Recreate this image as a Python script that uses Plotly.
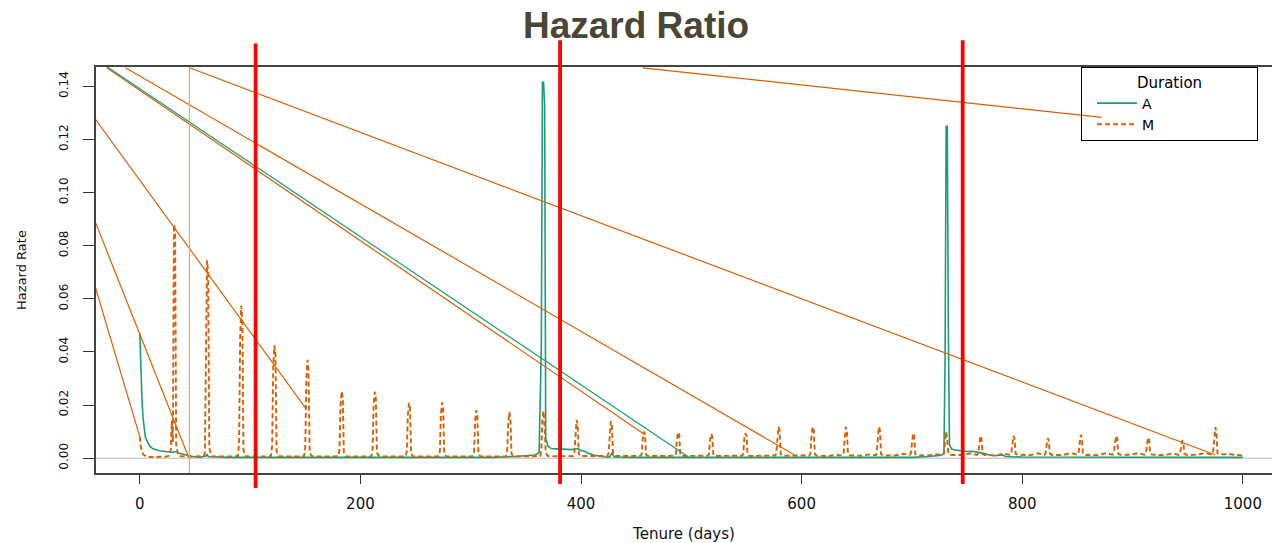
import plotly.graph_objects as go

# ---- data ----
# Duration A hazard (solid green)
A_days = [0,1,2,3,4,5,7,9,12,18,25,30,33,36,42,48,55,60,61,62,
          80,150,250,320,340,350,358,362,364,365,366,367,368,370,373,378,385,392,396,398,
          400,404,406,412,420,426,428,430,450,550,650,700,715,725,729,730,731,732,733,734,
          736,740,745,750,755,760,765,770,775,782,785,800,900,1000]
A_vals = [0.0470,0.0300,0.0220,0.0150,0.0110,0.0080,0.0060,0.0045,0.0035,0.0028,
          0.0024,0.0022,0.0025,0.0018,0.0012,0.0006,0.0004,0.0008,0.0015,0.0006,
          0.0003,0.0003,0.0002,0.0003,0.0006,0.0010,0.0012,0.0020,0.0420,0.1415,
          0.1415,0.1335,0.0075,0.0045,0.0036,0.0035,0.0034,0.0032,0.0036,0.0034,
          0.0029,0.0025,0.0019,0.0011,0.0005,0.0004,0.0020,0.0004,0.0003,0.0002,
          0.0002,0.0003,0.0006,0.0010,0.0015,0.0370,0.1250,0.1250,0.0490,0.0050,
          0.0034,0.0030,0.0028,0.0025,0.0026,0.0023,0.0018,0.0012,0.0009,0.0012,
          0.0006,0.0004,0.0003,0.0003]

# Duration M hazard (dashed orange)
M_days = [0,1,3,6,15,24,27,28,29,30,31,32,33,35,
          45,52,58,59,60,61,62,63,65,
          75,82,89,90,91,92,93,94,96,
          106,113,119,120,121,122,123,124,126,
          136,143,149,150,151,152,153,154,156,
          166,173,180,181,182,183,184,185,187,
          197,204,210,211,212,213,214,215,217,
          228,235,241,242,243,244,245,246,248,
          258,265,271,272,273,274,275,276,278,
          289,296,302,303,304,305,306,307,309,
          319,326,332,333,334,335,336,337,339,
          349,356,363,364,365,366,367,368,370,
          380,387,393,394,395,396,397,398,400,
          411,418,424,425,426,427,428,429,431,
          441,448,454,455,456,457,458,459,461,
          472,479,485,486,487,488,489,490,492,
          502,509,515,516,517,518,519,520,522,
          533,540,546,547,548,549,550,551,553,
          563,570,576,577,578,579,580,581,583,
          594,601,607,608,609,610,611,612,614,
          624,631,637,638,639,640,641,642,644,
          654,661,667,668,669,670,671,672,674,
          685,692,698,699,700,701,702,703,705,
          715,722,728,729,730,731,732,733,735,
          746,753,759,760,761,762,763,764,766,
          776,783,789,790,791,792,793,794,796,
          807,814,820,821,822,823,824,825,827,
          837,844,850,851,852,853,854,855,857,
          868,875,882,883,884,885,886,887,889,
          898,905,911,912,913,914,915,916,918,
          929,936,942,943,944,945,946,947,949,
          959,966,972,973,974,975,976,977,979,
          988,994,1000]
M_vals = [0.0080,0.0040,0.0015,0.0005,0.0004,0.0006,0.0010,0.0030,0.0140,0.0060,0.0880,0.0860,0.0050,0.0008,
          0.0005,0.0006,0.0008,0.0020,0.0495,0.0745,0.0700,0.0040,0.0007,
          0.0005,0.0006,0.0008,0.0060,0.0450,0.0575,0.0520,0.0030,0.0007,
          0.0005,0.0006,0.0008,0.0050,0.0350,0.0425,0.0390,0.0025,0.0007,
          0.0005,0.0006,0.0008,0.0040,0.0300,0.0370,0.0330,0.0020,0.0007,
          0.0005,0.0006,0.0007,0.0030,0.0200,0.0252,0.0230,0.0020,0.0006,
          0.0005,0.0006,0.0007,0.0030,0.0200,0.0250,0.0225,0.0020,0.0006,
          0.0005,0.0006,0.0007,0.0025,0.0160,0.0208,0.0190,0.0015,0.0006,
          0.0005,0.0006,0.0007,0.0025,0.0165,0.0210,0.0190,0.0015,0.0006,
          0.0005,0.0006,0.0007,0.0020,0.0140,0.0181,0.0160,0.0015,0.0006,
          0.0005,0.0006,0.0007,0.0020,0.0130,0.0174,0.0150,0.0015,0.0006,
          0.0006,0.0007,0.0008,0.0030,0.0150,0.0178,0.0120,0.0020,0.0008,
          0.0007,0.0008,0.0008,0.0020,0.0110,0.0144,0.0125,0.0015,0.0008,
          0.0007,0.0008,0.0008,0.0020,0.0105,0.0139,0.0120,0.0015,0.0008,
          0.0007,0.0008,0.0009,0.0015,0.0075,0.0100,0.0090,0.0012,0.0008,
          0.0007,0.0008,0.0009,0.0015,0.0072,0.0098,0.0088,0.0012,0.0008,
          0.0007,0.0009,0.0009,0.0015,0.0070,0.0091,0.0082,0.0012,0.0008,
          0.0007,0.0009,0.0009,0.0015,0.0072,0.0094,0.0085,0.0012,0.0008,
          0.0008,0.0010,0.0010,0.0018,0.0090,0.0118,0.0105,0.0014,0.0009,
          0.0008,0.0010,0.0010,0.0018,0.0090,0.0118,0.0105,0.0014,0.0009,
          0.0008,0.0012,0.0010,0.0018,0.0090,0.0118,0.0105,0.0014,0.0010,
          0.0009,0.0014,0.0011,0.0018,0.0090,0.0118,0.0105,0.0015,0.0010,
          0.0010,0.0016,0.0012,0.0018,0.0072,0.0094,0.0085,0.0015,0.0010,
          0.0010,0.0014,0.0012,0.0020,0.0075,0.0100,0.0070,0.0018,0.0012,
          0.0012,0.0018,0.0012,0.0018,0.0065,0.0084,0.0075,0.0016,0.0012,
          0.0010,0.0017,0.0012,0.0018,0.0065,0.0084,0.0075,0.0016,0.0013,
          0.0011,0.0018,0.0012,0.0017,0.0058,0.0075,0.0068,0.0016,0.0012,
          0.0012,0.0019,0.0013,0.0018,0.0068,0.0088,0.0078,0.0017,0.0012,
          0.0011,0.0018,0.0013,0.0018,0.0065,0.0084,0.0075,0.0016,0.0013,
          0.0012,0.0019,0.0012,0.0017,0.0060,0.0078,0.0070,0.0016,0.0013,
          0.0011,0.0018,0.0012,0.0016,0.0050,0.0066,0.0060,0.0016,0.0012,
          0.0013,0.0019,0.0013,0.0020,0.0090,0.0117,0.0100,0.0018,0.0014,
          0.0015,0.0012,0.0010]
assert len(M_days) == len(M_vals)

# stray straight line segments visible in the reference (orange)
seg_x0 = [-40, -40, -40, -30, -13, 45, 456]
seg_y0 = [0.0640, 0.0886, 0.1275, 0.1470, 0.1470, 0.1470, 0.1470]
seg_x1 = [0, 44, 150, 458, 596, 975, 872]
seg_y1 = [0.0081, 0.0006, 0.0190, 0.0088, 0.0006, 0.0012, 0.1283]
# stray straight segment (green)
gseg_x = [-30, 499]
gseg_y = [0.1475, 0.0]

# thin light-orange vertical marker (days)
light_vline_days = [45]
# red cut-off markers (days)
red_vline_days = [105, 381, 746]

x_ticks = [0, 200, 400, 600, 800, 1000]
y_ticks = [0.00, 0.02, 0.04, 0.06, 0.08, 0.10, 0.12, 0.14]

GREEN = "#1b9e77"
ORANGE = "#d95f02"
LABEL_FONT = "DejaVu Sans"

fig = go.Figure()

fig.add_trace(go.Scatter(x=A_days, y=A_vals, mode="lines", name="A",
                         line=dict(color=GREEN, width=1.6)))
fig.add_trace(go.Scatter(x=M_days, y=M_vals, mode="lines",
                         name="M" + "\u00a0" * 22,
                         line=dict(color=ORANGE, width=1.9, dash="5px,3px")))

sx, sy = [], []
for a, b, c, d in zip(seg_x0, seg_y0, seg_x1, seg_y1):
    sx += [a, c, None]
    sy += [b, d, None]
fig.add_trace(go.Scatter(x=sx, y=sy, mode="lines", showlegend=False, hoverinfo="skip",
                         line=dict(color=ORANGE, width=1.2)))
fig.add_trace(go.Scatter(x=gseg_x, y=gseg_y, mode="lines", showlegend=False, hoverinfo="skip",
                         line=dict(color=GREEN, width=1.2)))

shapes = []
# light grey zero reference line
shapes.append(dict(type="line", xref="paper", x0=0, x1=1, yref="y", y0=0, y1=0,
                   line=dict(color="#d0d0d0", width=1.5), layer="below"))
for d in light_vline_days:
    shapes.append(dict(type="line", xref="x", x0=d, x1=d, yref="paper", y0=0, y1=1,
                       line=dict(color="#f7a44a", width=1.2)))
red_extents = [(-0.037, 1.058), (-0.027, 1.066), (-0.027, 1.066)]
for d, (lo, hi) in zip(red_vline_days, red_extents):
    shapes.append(dict(type="line", xref="x", x0=d, x1=d, yref="paper", y0=lo, y1=hi,
                       line=dict(color="#ff0000", width=3.8)))

fig.update_layout(
    width=1272, height=543,
    margin=dict(l=96, r=0, t=67, b=70, autoexpand=False),
    paper_bgcolor="white", plot_bgcolor="white",
    title=dict(text="Hazard Ratio", x=0.5, xref="container", xanchor="center",
               y=1 - 25 / 543, yref="container", yanchor="middle",
               font=dict(family="Liberation Sans, Arial", size=37, color="#4b4534", weight="bold")),
    showlegend=True,
    legend=dict(x=(1081 - 96) / 1176, y=1, xanchor="left", yanchor="top",
                bgcolor="rgba(255,255,255,0)", bordercolor="#000000", borderwidth=1,
                font=dict(family=LABEL_FONT, size=14, color="#000"),
                title=dict(text="Duration", side="top center",
                           font=dict(family=LABEL_FONT, size=15, color="#000")),
                itemwidth=40, indentation=10, tracegroupgap=0),
    shapes=shapes,
)

fig.update_xaxes(range=[-39.7, 1026.4], tickvals=x_ticks, ticks="outside", ticklen=9,
                 tickcolor="#333", tickwidth=1.2, showline=True, linecolor="#444",
                 linewidth=1.5, mirror=True, showgrid=False, zeroline=False,
                 ticklabelstandoff=7,
                 tickfont=dict(family=LABEL_FONT, size=15, color="#111"),
                 title=dict(text="Tenure (days)", standoff=34,
                            font=dict(family=LABEL_FONT, size=15, color="#111")))
fig.update_yaxes(range=[-0.0056, 0.1473], tickvals=y_ticks, tickformat=".2f",
                 ticks="outside", ticklen=11, tickcolor="#333", tickwidth=1.2,
                 tickangle=-90, showline=True, linecolor="#444", linewidth=1.5,
                 showgrid=False, zeroline=False, ticklabelstandoff=10,
                 tickfont=dict(family=LABEL_FONT, size=12, color="#111"),
                 title=dict(text="Hazard Rate", standoff=28,
                            font=dict(family=LABEL_FONT, size=13, color="#111")))

fig.write_html("out.html", config={"displayModeBar": False},
               post_script="document.body.style.margin='0';")
